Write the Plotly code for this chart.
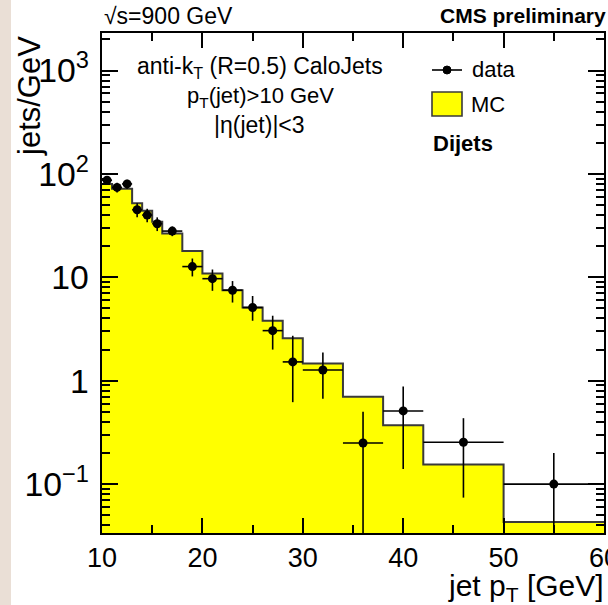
import plotly.graph_objects as go

# ---- data ----
bin_edges = [10, 11, 12, 13, 14, 15, 16, 18, 20, 22, 24, 26, 28, 30, 34, 38, 42, 50, 60]
mc_values = [80, 72, 72, 52, 44, 34.5, 26.6, 18, 10.9, 7.5, 5.1, 3.8, 2.57, 1.47, 0.70, 0.37, 0.155, 0.043]

data_x = [10.5, 11.5, 12.5, 13.5, 14.5, 15.5, 17, 19, 21, 23, 25, 27, 29, 32, 36, 40, 46, 55]
data_y = [87, 74, 80, 45, 40, 33, 28, 12.7, 9.7, 7.5, 5.1, 3.05, 1.52, 1.27, 0.25, 0.51, 0.254, 0.10]
data_err_up = [8, 8, 8, 7, 6, 5, 3, 2.5, 2.2, 1.7, 1.5, 1.2, 1.2, 0.6, 0.25, 0.37, 0.18, 0.10]
data_err_dn = [8, 8, 8, 7, 6, 5, 3, 2.5, 2.3, 1.8, 1.3, 1.05, 0.9, 0.6, 0.2499, 0.37, 0.18, 0.0999]
data_xerr = [(bin_edges[i + 1] - bin_edges[i]) / 2 for i in range(len(data_x))]

FONT = "Liberation Sans, Arial, Helvetica, sans-serif"

fig = go.Figure()

# MC histogram (step, filled)
step_x = bin_edges
step_y = mc_values + [mc_values[-1]]
fig.add_trace(go.Scatter(
    x=step_x, y=step_y, mode="lines", line_shape="hv",
    line=dict(color="#3a3a3a", width=2),
    fill="tozeroy", fillcolor="#ffff00",
    showlegend=False, hoverinfo="skip",
))

# data points
fig.add_trace(go.Scatter(
    x=data_x, y=data_y, mode="markers",
    marker=dict(color="black", size=9),
    error_y=dict(type="data", array=data_err_up, arrayminus=data_err_dn,
                 symmetric=False, color="black", thickness=1.6, width=0),
    error_x=dict(type="data", array=data_xerr, color="black", thickness=1.6, width=0),
    showlegend=False,
))

L, R, T, B = 102, 4, 33, 72
W, H = 608, 605
pw, ph = W - L - R, H - T - B


def px(x):
    return (x - L) / pw


def py(y):
    return (H - B - y) / ph


fig.update_layout(
    width=W, height=H,
    margin=dict(l=L, r=R, t=T, b=B, autoexpand=False),
    paper_bgcolor="white", plot_bgcolor="white",
    font=dict(family=FONT, color="black"),
    xaxis=dict(
        range=[10, 60], dtick=10, tick0=10, automargin=False,
        ticks="inside", ticklen=15, tickwidth=1.5, tickcolor="black",
        showline=True, linecolor="black", linewidth=1.5, mirror="allticks",
        showgrid=False, zeroline=False,
        tickfont=dict(size=27, family=FONT),
        ticklabeloverflow="allow",
        minor=dict(ticks="inside", ticklen=8, tickwidth=1.5, tickcolor="black", dtick=5, showgrid=False),
    ),
    yaxis=dict(
        type="log", range=[-1.473, 3.363], dtick=1, exponentformat="power", automargin=False,
        ticks="inside", ticklen=16, tickwidth=1.5, tickcolor="black",
        showline=True, linecolor="black", linewidth=1.5, mirror="allticks",
        showgrid=False, zeroline=False,
        tickfont=dict(size=27, family=FONT),
        ticklabelstandoff=6,
        minor=dict(ticks="inside", ticklen=8, tickwidth=1.5, tickcolor="black", dtick="D1", showgrid=False),
    ),
)

# left textured strip approximation
fig.add_shape(type="rect", xref="paper", yref="paper",
              x0=px(0), x1=px(11), y0=py(605), y1=py(0),
              fillcolor="#eadfd6", line=dict(width=0), layer="below")

ann = []
ann.append(dict(text="jets/GeV", x=px(29), y=py(34), xanchor="center", yanchor="top",
                textangle=-90, font=dict(size=31)))
ann.append(dict(text="jet p<sub>T</sub> [GeV]", x=px(606), y=py(587), xanchor="right", yanchor="middle",
                font=dict(size=30)))
ann.append(dict(text="√s=900 GeV", x=px(102), y=py(16), xanchor="left", yanchor="middle",
                font=dict(size=23)))
ann.append(dict(text="<b>CMS preliminary</b>", x=px(608), y=py(16), xanchor="right", yanchor="middle",
                font=dict(size=21)))
ann.append(dict(text="anti-k<sub>T</sub> (R=0.5) CaloJets", x=px(260), y=py(68), xanchor="center",
                yanchor="middle", font=dict(size=23)))
ann.append(dict(text="p<sub>T</sub>(jet)>10 GeV", x=px(260), y=py(97), xanchor="center",
                yanchor="middle", font=dict(size=22)))
ann.append(dict(text="|η(jet)|<3", x=px(259), y=py(125), xanchor="center",
                yanchor="middle", font=dict(size=23)))
ann.append(dict(text="data", x=px(470), y=py(70), xanchor="left", yanchor="middle", font=dict(size=22)))
ann.append(dict(text="MC", x=px(469), y=py(104), xanchor="left", yanchor="middle", font=dict(size=22)))
ann.append(dict(text="<b>Dijets</b>", x=px(431), y=py(143), xanchor="left", yanchor="middle",
                font=dict(size=22)))
for a in ann:
    a.update(xref="paper", yref="paper", showarrow=False)
    fig.add_annotation(**a)

# legend symbols
fig.add_shape(type="line", xref="paper", yref="paper", x0=px(432), x1=px(462), y0=py(70), y1=py(70),
              line=dict(color="black", width=1.6))
fig.add_shape(type="circle", xref="paper", yref="paper", xsizemode="pixel", ysizemode="pixel",
              xanchor=px(447), yanchor=py(70), x0=-4, x1=4, y0=-4, y1=4,
              fillcolor="black", line=dict(color="black", width=1))
fig.add_shape(type="rect", xref="paper", yref="paper", x0=px(432), x1=px(462), y0=py(116), y1=py(92),
              fillcolor="#ffff00", line=dict(color="#3a3a3a", width=1.6))

fig.write_html("out.html", config={"displayModeBar": False},
               post_script="document.body.style.margin='0px';document.body.style.overflow='hidden';")
